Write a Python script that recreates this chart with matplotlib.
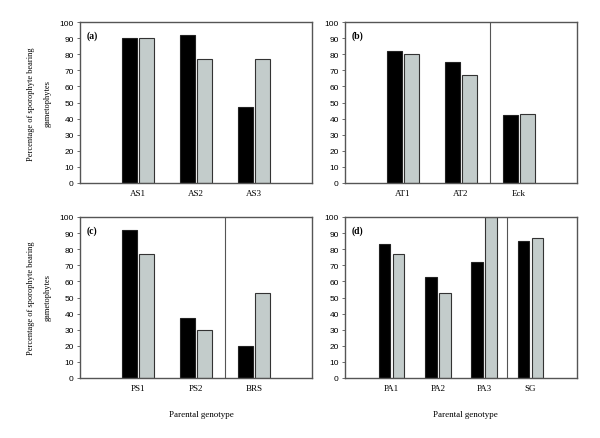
import numpy as np
import matplotlib
matplotlib.use("Agg")
import matplotlib.pyplot as plt

# panel data: (black, grey) percentages
a_labels = ["AS1", "AS2", "AS3"]
a_black = [90, 92, 47]
a_grey = [90, 77, 77]

b_labels = ["AT1", "AT2", "Eck"]
b_black = [82, 75, 42]
b_grey = [80, 67, 43]

c_labels = ["PS1", "PS2", "BRS"]
c_black = [92, 37, 20]
c_grey = [77, 30, 53]

d_labels = ["PA1", "PA2", "PA3", "SG"]
d_black = [83, 63, 72, 85]
d_grey = [77, 53, 100, 87]

# where the vertical separator sits (between groups), None = no line
dividers = [None, 2.5, 2.5, 3.5]
panel_tags = ["(a)", "(b)", "(c)", "(d)"]

serif = "Liberation Serif"
sans = "Liberation Sans"
grey_col = "#c3cccb"
frame_col = "#555555"

fig = plt.figure(figsize=(6, 4.39), dpi=100)
W, H = 600, 439
boxes = [(80, 23), (345, 23), (80, 218), (345, 218)]
aw, ah = 232, 161

panels = [(a_labels, a_black, a_grey), (b_labels, b_black, b_grey),
          (c_labels, c_black, c_grey), (d_labels, d_black, d_grey)]

for i, (labels, blk, gry) in enumerate(panels):
    x0, y0 = boxes[i]
    ax = fig.add_axes([x0 / W, 1 - (y0 + ah) / H, aw / W, ah / H])
    x = np.arange(1, len(labels) + 1)
    w = 0.25
    ax.bar(x - 0.15, blk, w, color="black", edgecolor="#222222", linewidth=0.8)
    ax.bar(x + 0.15, gry, w, color=grey_col, edgecolor="#333333", linewidth=0.8)
    ax.set_xlim(0, len(labels) + 1)
    ax.set_ylim(0, 100)
    ax.set_yticks(range(0, 101, 10))
    ax.set_xticks(x)
    ax.set_xticklabels(labels, fontfamily=serif, fontsize=6.5)
    for t in ax.get_yticklabels():
        t.set_fontfamily(sans)
        t.set_fontsize(6)
    ax.tick_params(axis="y", length=2.5, width=0.6, pad=2, color=frame_col)
    ax.tick_params(axis="x", length=0, pad=4)
    for s in ax.spines.values():
        s.set_color(frame_col)
        s.set_linewidth(1.0)
    if dividers[i] is not None:
        ax.axvline(dividers[i], color=frame_col, linewidth=0.8)
    ax.text(0.03, 0.95, panel_tags[i], transform=ax.transAxes, fontfamily=serif,
            fontweight="bold", fontsize=7, va="top", ha="left")

# shared axis labels
for yc in (104, 298):
    fig.text(39 / W, 1 - yc / H, "Percentage of sporophyte bearing\ngametophytes",
             rotation=90, ha="center", va="center", fontfamily=serif,
             fontsize=6, linespacing=2.4)
for xc in (201, 465):
    fig.text(xc / W, 1 - 415 / H, "Parental genotype", ha="center", va="center",
             fontfamily=serif, fontsize=6.5)

fig.savefig("out.png", dpi=100)
